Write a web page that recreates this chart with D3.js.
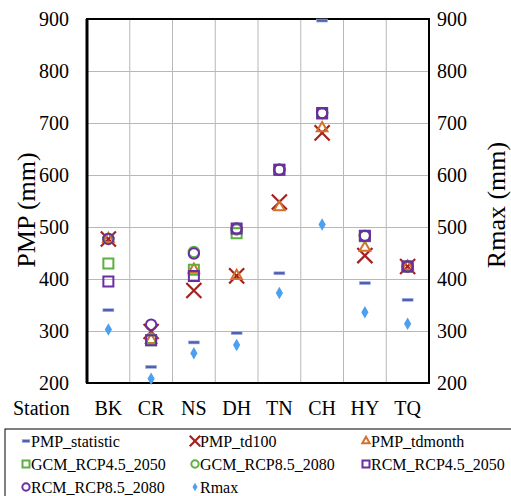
<!DOCTYPE html>
<html>
<head>
<meta charset="utf-8">
<script src="https://cdn.jsdelivr.net/npm/d3@7"></script>
<style>
  body { margin: 0; background: #fff; }
</style>
</head>
<body>
<svg id="chart" width="511" height="496"></svg>
<script>
const stations = ['BK', 'CR', 'NS', 'DH', 'TN', 'CH', 'HY', 'TQ'];
const pmpStatistic = [340, 231, 278, 296, 411, 897, 392, 360];
const pmpTd100 = [477, 299, 378, 406, 548, 681, 445, 424];
const pmpTdmonth = [477, 283, 418, 406, 538, 690, 460, 424];
const gcm45_2050 = [430, 282, 418, 488, 610, 718, 482, 424];
const gcm85_2080 = [477, 285, 452, 495, 610, 719, 483, 424];
const rcm45_2050 = [395, 282, 406, 497, 610, 719, 483, 424];
const rcm85_2080 = [477, 312, 449, 497, 610, 719, 483, 424];
const rmax = [303, 208, 257, 273, 373, 505, 336, 314];
const yTicks = [200, 300, 400, 500, 600, 700, 800, 900];

const series = [
    {name: 'PMP_statistic', values: pmpStatistic, shape: 'dash', color: '#5060b0'},
    {name: 'PMP_td100', values: pmpTd100, shape: 'x', color: '#a5201e'},
    {name: 'PMP_tdmonth', values: pmpTdmonth, shape: 'triangle', color: '#d2702c'},
    {name: 'GCM_RCP4.5_2050', values: gcm45_2050, shape: 'square', color: '#5cb040'},
    {name: 'GCM_RCP8.5_2080', values: gcm85_2080, shape: 'circle', color: '#5cb040'},
    {name: 'RCM_RCP4.5_2050', values: rcm45_2050, shape: 'square', color: '#6a2ea0'},
    {name: 'RCM_RCP8.5_2080', values: rcm85_2080, shape: 'circle', color: '#6a2ea0'},
    {name: 'Rmax', values: rmax, shape: 'diamond', color: '#4d9ff0'}
];

const FONT = '"Liberation Serif", "Times New Roman", Times, serif';
const margin = {top: 19, right: 82, bottom: 113, left: 87};
const width = 511 - margin.left - margin.right;
const height = 496 - margin.top - margin.bottom;

const svg = d3.select('#chart');
const g = svg.append('g').attr('transform', `translate(${margin.left}, ${margin.top})`);

const xScale = d3.scaleBand().domain(stations).range([0, width]).padding(0);
const yScale = d3.scaleLinear().domain([200, 900]).range([height, 0]);

// gridlines
g.append('g')
    .call(d3.axisLeft(yScale).tickValues(yTicks).tickSize(-width).tickFormat(''))
    .call(s => s.select('.domain').remove())
    .selectAll('line').attr('stroke', '#b8b8b8').attr('stroke-width', 1);
g.append('g')
    .selectAll('line')
    .data(stations.slice(1))
    .enter()
    .append('line')
    .attr('x1', d => xScale(d)).attr('x2', d => xScale(d))
    .attr('y1', 0).attr('y2', height)
    .attr('stroke', '#b8b8b8').attr('stroke-width', 1);

// axes
const yAxisL = g.append('g')
    .call(d3.axisLeft(yScale).tickValues(yTicks).tickSize(0).tickPadding(18));
yAxisL.select('.domain').remove();

const yAxisR = g.append('g')
    .attr('transform', `translate(${width}, 0)`)
    .call(d3.axisRight(yScale).tickValues(yTicks).tickSize(0).tickPadding(8));
yAxisR.select('.domain').remove();

const xAxis = g.append('g')
    .attr('transform', `translate(0, ${height})`)
    .call(d3.axisBottom(xScale).tickSize(0).tickPadding(0));
xAxis.select('.domain').remove();
xAxis.selectAll('text').attr('dy', null).attr('y', 32);

[yAxisL, yAxisR, xAxis].forEach(a => a.attr('font-family', null).attr('font-size', null));

// frame
g.append('rect')
    .attr('width', width).attr('height', height)
    .attr('fill', 'none').attr('stroke', '#000').attr('stroke-width', 2);
g.append('line')
    .attr('x1', 0).attr('x2', 0).attr('y1', 0).attr('y2', height)
    .attr('stroke', '#000').attr('stroke-width', 3);

svg.append('text')
    .attr('x', 13).attr('y', margin.top + height + 32)
    .style('font-size', '20px')
    .text('Station');

svg.append('text')
    .attr('transform', `translate(35, 210) rotate(-90)`)
    .attr('text-anchor', 'middle')
    .style('font-size', '26px')
    .text('PMP (mm)');

svg.append('text')
    .attr('transform', `translate(505, 205) rotate(-90)`)
    .attr('text-anchor', 'middle')
    .style('font-size', '26px')
    .text('Rmax (mm)');

function drawMarker(sel, shape, color, scale) {
    scale = scale || 1;
    if (shape === 'dash') {
        sel.append('rect')
            .attr('x', -5.5 * scale).attr('y', -1.5)
            .attr('width', 11 * scale).attr('height', 3)
            .attr('fill', color)
            .attr('stroke', '#a8b4e8').attr('stroke-width', 0.6);
    } else if (shape === 'diamond') {
        sel.append('path')
            .attr('d', d3.symbol(d3.symbolDiamond, 45 * scale * scale)())
            .attr('fill', color);
    } else {
        const types = {
            x: [d3.symbolX, 150],
            triangle: [d3.symbolTriangle2, 80],
            square: [d3.symbolSquare, 100],
            circle: [d3.symbolCircle, 85]
        };
        const t = types[shape];
        sel.append('path')
            .attr('d', d3.symbol(t[0], t[1] * scale * scale)())
            .attr('fill', 'none')
            .attr('stroke', color)
            .attr('stroke-width', shape === 'x' ? 2.2 : 2);
    }
}

// points
series.forEach(s => {
    const pts = g.append('g')
        .selectAll('g')
        .data(s.values)
        .enter()
        .append('g')
        .attr('transform', (d, i) => `translate(${xScale(stations[i]) + xScale.bandwidth() / 2}, ${yScale(d)})`);
    drawMarker(pts, s.shape, s.color);
});

// legend
const legend = svg.append('g');
legend.append('rect')
    .attr('x', 5).attr('y', 429).attr('width', 520).attr('height', 80)
    .attr('fill', '#fff').attr('stroke', '#000').attr('stroke-width', 1);
const colX = [26, 195, 366];
series.forEach((s, i) => {
    const col = i % 3;
    const row = Math.floor(i / 3);
    const item = legend.append('g')
        .attr('transform', `translate(${colX[col]}, ${441 + row * 23})`);
    drawMarker(item, s.shape, s.color, 0.7);
    item.append('text')
        .attr('x', 5).attr('y', 5.5)
        .style('font-size', '16px')
        .text(s.name);
});

svg.selectAll('text').style('font-family', FONT).style('fill', '#000');
svg.selectAll('.tick text').style('font-size', '20px');
</script>
</body>
</html>
